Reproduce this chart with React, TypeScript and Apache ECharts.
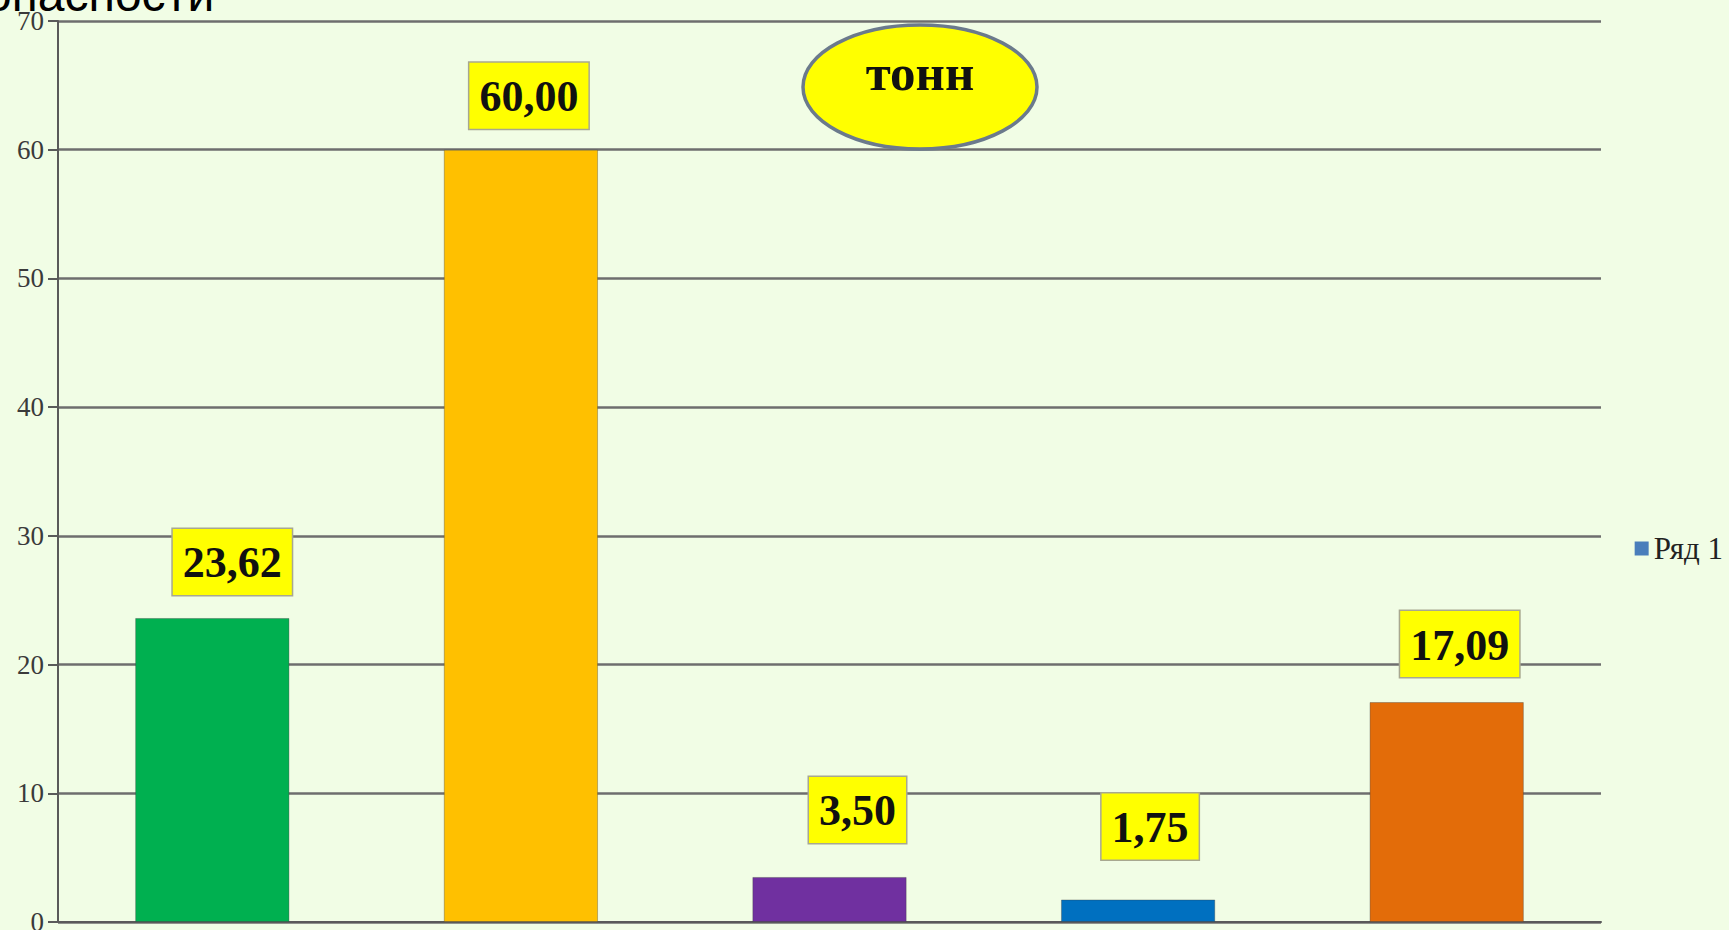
import React, { useEffect, useRef } from "react";
import * as echarts from "echarts";

const categories = ["Кат. 1", "Кат. 2", "Кат. 3", "Кат. 4", "Кат. 5"];
const values = [23.62, 60.0, 3.5, 1.75, 17.09];
const barColors = ["#00b050", "#ffc000", "#7030a0", "#0070c0", "#e36c09"];
const labelShiftX = [20, 8, 28, 12, 13];
const labelGap = [23, 21, 34, 40, 25];
const seriesName = "Ряд 1";
const unitText = "тонн";
const titleText = "опасности";

export default function App() {
  const ref = useRef<HTMLDivElement>(null);
  useEffect(() => {
    document.body.style.margin = "0";
    const chart = echarts.init(ref.current!, null, { renderer: "svg" });
    chart.setOption({
      animation: false,
      backgroundColor: "#f1fde5",
      grid: { left: 58, right: 128, top: 21, bottom: 8, containLabel: false, outerBoundsMode: "none" },
      legend: {
        data: [seriesName],
        right: 1,
        top: 528,
        orient: "vertical",
        icon: "rect",
        itemWidth: 14,
        itemHeight: 14,
        itemGap: 6,
        textStyle: { fontFamily: "Liberation Serif", fontSize: 31, color: "#222" },
      },
      xAxis: {
        type: "category",
        data: categories,
        axisLabel: { show: false },
        axisTick: { show: false },
        axisLine: { lineStyle: { color: "#5a5a5a", width: 2 } },
      },
      yAxis: {
        type: "value",
        min: 0,
        max: 70,
        interval: 10,
        axisLine: { show: true, lineStyle: { color: "#5a5a5a", width: 2 } },
        axisTick: { show: true, length: 10, lineStyle: { color: "#5a5a5a", width: 2 } },
        axisLabel: { fontFamily: "Liberation Serif", fontSize: 27, color: "#3a3a3a", margin: 14 },
        splitLine: { lineStyle: { color: "#6e6e6e", width: 2.5 } },
      },
      series: [
        {
          name: seriesName,
          type: "bar",
          barWidth: "50%",
          itemStyle: { color: "#4a7ebb" },
          data: values.map((v, i) => ({
            value: v,
            itemStyle: { color: barColors[i], borderColor: "rgba(60,60,60,0.35)", borderWidth: 1 },
            label: {
              show: true,
              position: "top",
              distance: 0,
              offset: [labelShiftX[i], -labelGap[i]],
              formatter: (p: any) => p.value.toFixed(2).replace(".", ","),
              fontFamily: "Liberation Serif",
              fontWeight: "bold",
              fontSize: 44,
              color: "#111",
              backgroundColor: "#ffff00",
              borderColor: "#a8a890",
              borderWidth: 1.5,
              padding: [12, 10, 10, 10],
            },
          })),
        },
      ],
      graphic: [
        {
          type: "ellipse",
          shape: { cx: 920, cy: 87, rx: 117, ry: 62 },
          style: { fill: "#ffff00", stroke: "#6b7a8c", lineWidth: 3.5 },
          z: 100,
        },
        {
          type: "text",
          x: 920,
          y: 73,
          style: {
            text: unitText,
            fontFamily: "Liberation Serif",
            fontWeight: "bold",
            fontSize: 51,
            fill: "#111",
            align: "center",
            verticalAlign: "middle",
          },
          z: 101,
        },
        {
          type: "text",
          x: -15,
          y: -6,
          style: {
            text: titleText,
            fontFamily: "Liberation Sans",
            fontSize: 48,
            fill: "#000",
            align: "left",
            verticalAlign: "middle",
          },
          z: 101,
        },
      ],
    });
    return () => chart.dispose();
  }, []);
  return <div ref={ref} style={{ width: 1729, height: 930 }} />;
}
